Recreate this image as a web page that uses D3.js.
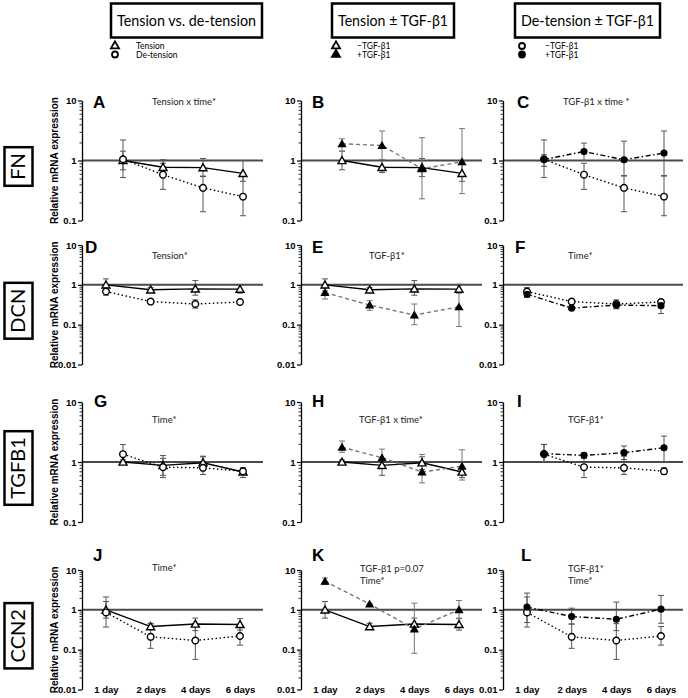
<!DOCTYPE html>
<html><head><meta charset="utf-8">
<script src="https://cdn.jsdelivr.net/npm/d3@7"></script>
<style>
body{margin:0;background:#fff;}
svg{display:block;}
</style></head>
<body><svg id="c" width="688" height="698"></svg>
<script>
// ---------- DATA ----------
const days = ["1 day", "2 days", "4 days", "6 days"];
const genes = ["FN", "DCN", "TGFB1", "CCN2"];
const letters = [["A","B","C"],["D","E","F"],["G","H","I"],["J","K","L"]];
const columnTitles = ["Tension vs. de-tension", "Tension \u00B1 TGF-\u03B21", "De-tension \u00B1 TGF-\u03B21"];
const yDomains = [[0.1, 10], [0.01, 10], [0.1, 10], [0.01, 10]];
const majorTicks = [[0.1, 1, 10], [0.01, 0.1, 1, 10], [0.1, 1, 10], [0.01, 0.1, 1, 10]];
const annotations = [
  [["Tension x time*"], [], ["TGF-\u03B21 x time *"]],
  [["Tension*"], ["TGF-\u03B21*"], ["Time*"]],
  [["Time*"], ["TGF-\u03B21 x time*"], ["TGF-\u03B21*"]],
  [["Time*"], ["TGF-\u03B21 p=0.07", "Time*"], ["TGF-\u03B21*", "Time*"]]
];

// FN
const fnTension      = [1.0, 0.77, 0.76, 0.61];
const fnTensionLo    = [0.7, 0.63, 0.54, 0.45];
const fnTensionHi    = [1.43, 1.03, 1.08, 1.0];
const fnDetension    = [1.05, 0.58, 0.35, 0.25];
const fnDetensionLo  = [0.52, 0.33, 0.14, 0.12];
const fnDetensionHi  = [2.2, 0.9, 0.55, 0.55];
const fnTensionTgf   = [1.9, 1.78, 0.73, 0.95];
const fnTensionTgfLo = [1.43, 1.04, 0.23, 0.28];
const fnTensionTgfHi = [2.3, 3.1, 2.4, 3.4];
const fnDetensionTgf   = [1.04, 1.41, 1.03, 1.33];
const fnDetensionTgfLo = [0.8, 1.0, 0.56, 0.56];
const fnDetensionTgfHi = [1.25, 1.95, 2.1, 3.1];
// DCN
const dcnTension      = [1.0, 0.75, 0.79, 0.78];
const dcnTensionLo    = [0.7, 0.66, 0.55, 0.62];
const dcnTensionHi    = [1.41, 0.85, 1.28, 0.98];
const dcnDetension    = [0.68, 0.38, 0.33, 0.37];
const dcnDetensionLo  = [0.55, 0.34, 0.26, 0.32];
const dcnDetensionHi  = [0.85, 0.42, 0.42, 0.42];
const dcnTensionTgf   = [0.64, 0.31, 0.175, 0.28];
const dcnTensionTgfLo = [0.44, 0.23, 0.1, 0.09];
const dcnTensionTgfHi = [0.85, 0.4, 0.33, 1.04];
const dcnDetensionTgf   = [0.58, 0.26, 0.31, 0.30];
const dcnDetensionTgfLo = [0.48, 0.24, 0.25, 0.19];
const dcnDetensionTgfHi = [0.7, 0.28, 0.38, 0.42];
// TGFB1
const tgfTension      = [1.0, 0.88, 0.97, 0.68];
const tgfTensionLo    = [0.92, 0.6, 0.75, 0.55];
const tgfTensionHi    = [1.08, 1.15, 1.22, 0.8];
const tgfDetension    = [1.35, 0.82, 0.8, 0.7];
const tgfDetensionLo  = [1.0, 0.55, 0.62, 0.62];
const tgfDetensionHi  = [1.95, 1.28, 1.25, 0.8];
const tgfTensionTgf   = [1.76, 1.18, 0.68, 0.85];
const tgfTensionTgfLo = [1.45, 0.9, 0.45, 0.5];
const tgfTensionTgfHi = [2.24, 1.64, 1.34, 1.6];
const tgfDetensionTgf   = [1.38, 1.29, 1.43, 1.73];
const tgfDetensionTgfLo = [1.0, 1.15, 1.1, 1.0];
const tgfDetensionTgfHi = [1.97, 1.42, 1.85, 2.7];
// CCN2
const ccnTension      = [1.0, 0.38, 0.44, 0.43];
const ccnTensionLo    = [0.62, 0.33, 0.3, 0.31];
const ccnTensionHi    = [1.62, 0.46, 0.62, 0.6];
const ccnDetension    = [0.86, 0.21, 0.17, 0.22];
const ccnDetensionLo  = [0.37, 0.108, 0.057, 0.13];
const ccnDetensionHi  = [2.1, 0.44, 0.45, 0.38];
const ccnTensionTgf   = [5.2, 1.39, 0.33, 1.0];
const ccnTensionTgfLo = [4.3, 1.3, 0.081, 0.62];
const ccnTensionTgfHi = [6.3, 1.45, 1.47, 1.71];
const ccnDetensionTgf   = [1.17, 0.68, 0.58, 1.04];
const ccnDetensionTgfLo = [0.48, 0.44, 0.3, 0.46];
const ccnDetensionTgfHi = [2.63, 1.1, 1.56, 2.3];

const S = (v, lo, hi) => ({v, lo, hi});
const geneData = [
  {tension:S(fnTension,fnTensionLo,fnTensionHi), detension:S(fnDetension,fnDetensionLo,fnDetensionHi),
   tensionTGF:S(fnTensionTgf,fnTensionTgfLo,fnTensionTgfHi), detensionTGF:S(fnDetensionTgf,fnDetensionTgfLo,fnDetensionTgfHi)},
  {tension:S(dcnTension,dcnTensionLo,dcnTensionHi), detension:S(dcnDetension,dcnDetensionLo,dcnDetensionHi),
   tensionTGF:S(dcnTensionTgf,dcnTensionTgfLo,dcnTensionTgfHi), detensionTGF:S(dcnDetensionTgf,dcnDetensionTgfLo,dcnDetensionTgfHi)},
  {tension:S(tgfTension,tgfTensionLo,tgfTensionHi), detension:S(tgfDetension,tgfDetensionLo,tgfDetensionHi),
   tensionTGF:S(tgfTensionTgf,tgfTensionTgfLo,tgfTensionTgfHi), detensionTGF:S(tgfDetensionTgf,tgfDetensionTgfLo,tgfDetensionTgfHi)},
  {tension:S(ccnTension,ccnTensionLo,ccnTensionHi), detension:S(ccnDetension,ccnDetensionLo,ccnDetensionHi),
   tensionTGF:S(ccnTensionTgf,ccnTensionTgfLo,ccnTensionTgfHi), detensionTGF:S(ccnDetensionTgf,ccnDetensionTgfLo,ccnDetensionTgfHi)}
];

// ---------- LAYOUT / STYLE ----------
const svg = d3.select("#c");
const colAxisX = [82, 301, 503];
const colRightX = [263, 482, 683];
const rowTop = [100.5, 245, 402, 570];
const rowBottom = [220.5, 364.5, 522, 689.5];
const xInset = [[41, 161], [24, 158], [41, 161], [24, 158]];
const letterPos = [[[93,108],[312,108],[517,108]],[[85,253],[312,253],[515,253]],[[94,407],[312,407],[517,407]],[[93,561],[312,561],[521,561]]];
const annPos = [[[152,105],[0,0],[563,105]],[[152,259],[369,259],[568,259]],[[152,423],[359,423],[568,423]],[[152,571],[360,572],[568,572]]];

const styles = {
  tension:      {sym: d3.symbolTriangle, size: 28, fill: "#fff", line: "#000", dash: null, err: "#555"},
  detension:    {sym: d3.symbolCircle,   size: 34, fill: "#fff", line: "#000", dash: "1.5,2.5", err: "#555"},
  tensionTGF:   {sym: d3.symbolTriangle, size: 20, fill: "#000", line: "#777", dash: "4,3", err: "#777"},
  detensionTGF: {sym: d3.symbolCircle,   size: 26, fill: "#000", line: "#000", dash: "5,2.5,1.5,2.5", err: "#555"}
};
const panelSeries = [["tension", "detension"], ["tension", "tensionTGF"], ["detension", "detensionTGF"]];
const minorMult = [2,3,4,5,6,7,8,9];
const numFmt = d => String(d);

genes.forEach((gene, r) => {
  const [d0, d1] = yDomains[r];
  const y = d3.scaleLog().domain([d0, d1]).range([rowBottom[r], rowTop[r]]);
  const minors = [];
  for (let e = Math.log10(d0); e < Math.log10(d1); e++) minorMult.forEach(m => minors.push(m * Math.pow(10, e)));

  for (let c = 0; c < 3; c++) {
    const ax = colAxisX[c];
    const x = d3.scalePoint().domain(days).range([ax + xInset[r][0], ax + xInset[r][1]]);
    const g = svg.append("g");

    // reference line at 1
    g.append("line").attr("x1", ax).attr("x2", colRightX[c])
      .attr("y1", y(1)).attr("y2", y(1)).attr("stroke", "#4a4a4a").attr("stroke-width", 2);

    // axes
    const minorAxis = g.append("g").attr("transform", `translate(${ax},0)`)
      .call(d3.axisLeft(y).tickValues(minors).tickSize(2.5).tickSizeOuter(0).tickFormat(""));
    minorAxis.select(".domain").remove();
    minorAxis.selectAll("line").attr("stroke-width", 0.8);
    const majorAxis = g.append("g").attr("transform", `translate(${ax},0)`)
      .call(d3.axisLeft(y).tickValues(majorTicks[r]).tickSize(4).tickSizeOuter(0).tickFormat(numFmt).tickPadding(1.5));
    majorAxis.attr("font-size", 9.5).attr("font-family", "Liberation Sans, Arial, sans-serif");
    majorAxis.select(".domain").attr("stroke-width", 1.3);
    majorAxis.selectAll("line").attr("stroke-width", 1.2);
    majorAxis.selectAll("text").attr("font-weight", "bold").attr("fill", "#000");

    const keys = panelSeries[c];
    const data = geneData[r];
    // error bars
    keys.forEach(k => {
      const s = data[k], st = styles[k];
      days.forEach((d, i) => {
        const xx = x(d);
        g.append("line").attr("x1", xx).attr("x2", xx).attr("y1", y(s.lo[i])).attr("y2", y(s.hi[i]))
          .attr("stroke", st.err).attr("stroke-width", 1);
        [s.lo[i], s.hi[i]].forEach(val => g.append("line").attr("x1", xx - 3).attr("x2", xx + 3)
          .attr("y1", y(val)).attr("y2", y(val)).attr("stroke", st.err).attr("stroke-width", 1));
      });
    });
    // lines
    keys.forEach(k => {
      const s = data[k], st = styles[k];
      g.append("path").datum(days.map((d, i) => [x(d), y(s.v[i])]))
        .attr("d", d3.line()).attr("fill", "none").attr("stroke", st.line).attr("stroke-width", 1.4)
        .attr("stroke-dasharray", st.dash);
    });
    // markers
    keys.forEach(k => {
      const s = data[k], st = styles[k];
      days.forEach((d, i) => {
        g.append("path").attr("d", d3.symbol().type(st.sym).size(st.size)())
          .attr("transform", `translate(${x(d)},${y(s.v[i]) + (st.sym === d3.symbolTriangle ? 0.8 : 0)})`)
          .attr("fill", st.fill).attr("stroke", "#000").attr("stroke-width", 1.4);
      });
    });

    // panel letter
    g.append("text").attr("x", letterPos[r][c][0]).attr("y", letterPos[r][c][1])
      .attr("font-family", "Liberation Sans, Arial, sans-serif").attr("font-weight", "bold")
      .attr("font-size", 17).text(letters[r][c]);
    // annotation
    annotations[r][c].forEach((t, j) => {
      g.append("text").attr("x", annPos[r][c][0]).attr("y", annPos[r][c][1] + j * 11.5)
        .attr("font-family", "Lato, sans-serif").attr("font-size", 9.5).attr("fill", "#222").text(t);
    });

    // x tick labels (bottom row only)
    if (r === genes.length - 1) {
      const xa = g.append("g").attr("transform", `translate(0,${rowBottom[r] - 6})`)
        .call(d3.axisBottom(x).tickSize(0).tickPadding(3));
      xa.attr("font-size", 9.5).attr("font-family", "Liberation Sans, Arial, sans-serif");
      xa.select(".domain").remove();
      xa.selectAll("text").attr("font-weight", "bold").attr("fill", "#000");
    }
  }

  // y axis label
  const yc = (rowTop[r] + rowBottom[r]) / 2;
  svg.append("text").attr("transform", `translate(58,${yc}) rotate(-90)`).attr("text-anchor", "middle")
    .attr("font-family", "Liberation Sans, Arial, sans-serif").attr("font-weight", "bold").attr("font-size", 10)
    .text("Relative mRNA expression");

  // gene boxed label
  const gg = svg.append("g").attr("transform", `translate(18,${yc + 6}) rotate(-90)`);
  const gt = gg.append("text").attr("text-anchor", "middle").attr("y", 7)
    .attr("font-family", "Lato, sans-serif").attr("font-size", 20).text(gene);
  const bb = gt.node().getBBox();
  gg.insert("rect", "text").attr("x", bb.x - 6).attr("y", -13.5).attr("width", bb.width + 12).attr("height", 28)
    .attr("fill", "#fff").attr("stroke", "#000").attr("stroke-width", 2.5);
});

// ---------- HEADERS & LEGENDS ----------
const headerBox = [[111, 262], [332, 454], [515, 660]];
columnTitles.forEach((t, i) => {
  const [x0, x1] = headerBox[i];
  svg.append("rect").attr("x", x0).attr("y", 3.5).attr("width", x1 - x0).attr("height", 34)
    .attr("fill", "#fff").attr("stroke", "#000").attr("stroke-width", 2.5);
  svg.append("text").attr("x", (x0 + x1) / 2).attr("y", 26).attr("text-anchor", "middle")
    .attr("font-family", "Lato, sans-serif").attr("font-size", 15).attr("textLength", x1 - x0 - 12)
    .attr("lengthAdjust", "spacingAndGlyphs").text(t);
});
const legendLabels = [["Tension", "De-tension"], ["\u2212TGF-\u03B21", "+TGF-\u03B21"], ["\u2212TGF-\u03B21", "+TGF-\u03B21"]];
const legendKeys = [["tension", "detension"], ["tension", "tensionTGF"], ["detension", "detensionTGF"]];
const legendX = [[115, 136], [336, 357], [522, 545]];
legendKeys.forEach((ks, i) => {
  ks.forEach((k, j) => {
    const st = styles[k];
    const yy = 46 + j * 8.5;
    svg.append("path").attr("d", d3.symbol().type(st.sym).size(28)())
      .attr("transform", `translate(${legendX[i][0]},${yy})`)
      .attr("fill", st.fill).attr("stroke", "#000").attr("stroke-width", 1.8);
    svg.append("text").attr("x", legendX[i][1]).attr("y", yy + 3)
      .attr("font-family", "Lato, sans-serif").attr("font-size", 8.5).text(legendLabels[i][j]);
  });
});
</script>
</body></html>
